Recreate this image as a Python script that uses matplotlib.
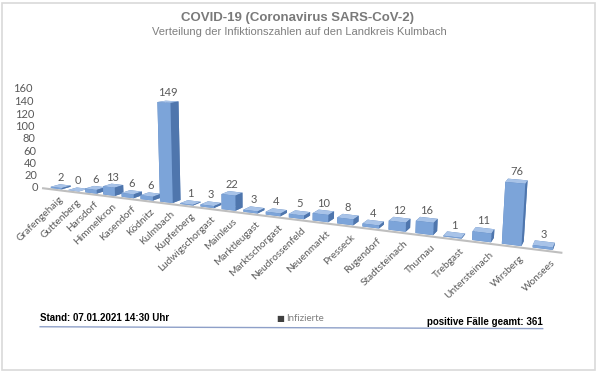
import numpy as np
import matplotlib.pyplot as plt
from matplotlib.patches import Rectangle
from mpl_toolkits.mplot3d import proj3d

# Infizierte je Gemeinde (Landkreis Kulmbach, Stand 07.01.2021)
orte = ["Grafengehaig", "Guttenberg", "Harsdorf", "Himmelkron", "Kasendorf",
        "Ködnitz", "Kulmbach", "Kupferberg", "Ludwigschorgast", "Mainleus",
        "Marktleugast", "Marktschorgast", "Neudrossenfeld", "Neuenmarkt",
        "Presseck", "Rugendorf", "Stadtsteinach", "Thurnau", "Trebgast",
        "Untersteinach", "Wirsberg", "Wonsees"]
faelle = [2, 0, 6, 13, 6, 6, 149, 1, 3, 22, 3, 4, 5, 10, 8, 4, 12, 16, 1, 11, 76, 3]
z_ticks = [0, 20, 40, 60, 80, 100, 120, 140, 160]

GRAU = "#595959"
# flaechen: unten, oben, vorne, hinten, links, rechts
FARBEN = ["#5a82ba", "#a8c3e8", "#7ca4d9", "#5a82ba", "#5a82ba", "#4f76ad"]

fig = plt.figure(figsize=(5.99, 3.73), dpi=100)

# rahmen um das ganze bild
fig.add_artist(Rectangle((0.004, 0.008), 0.99, 0.985, transform=fig.transFigure,
                         fill=False, edgecolor="#d9d9d9", lw=1.2))

fig.text(0.497, 0.953, "COVID-19 (Coronavirus SARS-CoV-2)", ha="center", va="center",
         fontsize=9.5, fontweight="bold", color="#7a7a7a", family="Liberation Sans")
fig.text(0.5, 0.915, "Verteilung der Infiktionszahlen auf den Landkreis Kulmbach",
         ha="center", va="center", fontsize=8, color="#7f7f7f", family="Liberation Sans")

ax = fig.add_axes([-0.06, 0.147, 1.0, 0.85], projection="3d")
ax.set_proj_type("persp", focal_length=0.43)
ax.view_init(elev=10, azim=-64)
ax.set_box_aspect((22, 1.5, 4.5), zoom=1.75)
ax.set_axis_off()

n = len(orte)
x = np.arange(n)
bars = ax.bar3d(x - 0.32, 0.2, 0, 0.64, 0.6, faelle, color=FARBEN * n,
                shade=False, edgecolor="none")
bars.set_clip_on(False)

ax.set_xlim(-0.6, n - 0.4)
ax.set_ylim(0, 1.5)
ax.set_zlim(0, 160)

# boden-linie
linie, = ax.plot([-0.6, n - 0.4], [0, 0], [0, 0], color="#bfbfbf", lw=1.5)
linie.set_clip_on(False)

for xi, v in zip(x, faelle):
    ax.text(xi, 0.5, v + 5, str(v), ha="center", va="bottom", fontsize=8,
            color=GRAU, family="Lato")
for t in z_ticks:
    ax.text(-0.9, 0.0, t, str(t), ha="right", va="center", fontsize=8,
            color=GRAU, family="Lato")

# gedrehte ortsnamen: 3d-punkt projizieren, dann 2d-text
fig.canvas.draw()
M = ax.get_proj()
for xi, name in zip(x, orte):
    px, py, _ = proj3d.proj_transform(xi + 0.3, 0, -8, M)
    ax.text2D(px, py, name, transform=ax.transData, ha="right", va="top",
              rotation=44, rotation_mode="anchor", fontsize=7.3, color=GRAU,
              family="Lato")

fig.text(0.067, 0.147, "Stand: 07.01.2021 14:30 Uhr", ha="left", va="center",
         fontsize=7, fontweight="bold", color="black", family="Liberation Sans")
fig.text(0.462, 0.147, "■", ha="left", va="center", fontsize=6, color="#404040")
fig.text(0.477, 0.147, "Infizierte", ha="left", va="center", fontsize=7,
         color="#7f7f7f", family="Lato")
fig.text(0.906, 0.137, "positive Fälle geamt: 361", ha="right", va="center",
         fontsize=7, fontweight="bold", color="black", family="Liberation Sans")
fig.add_artist(plt.Line2D([0.067, 0.906], [0.124, 0.119], transform=fig.transFigure,
                          color="#8ea0c8", lw=1))

fig.savefig("out.png", dpi=100)
